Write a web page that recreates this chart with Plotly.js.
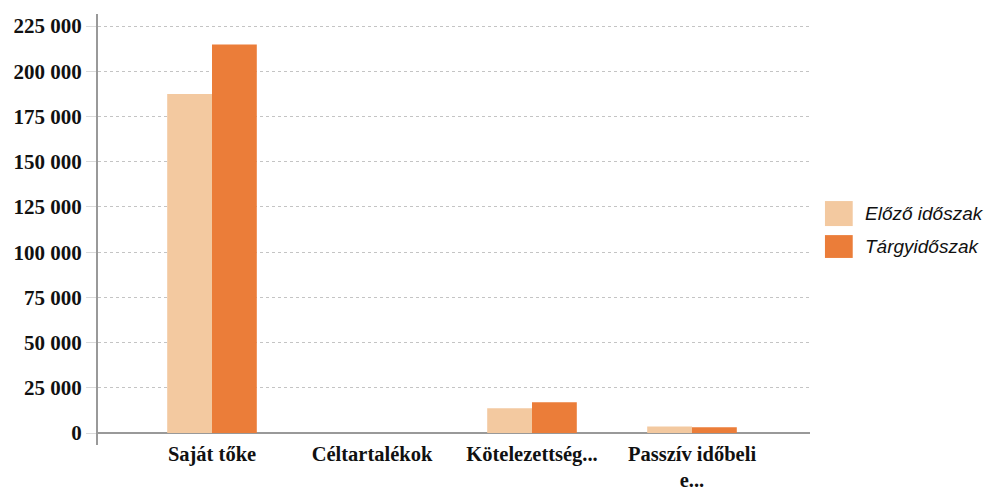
<!DOCTYPE html>
<html><head><meta charset="utf-8">
<script src="https://cdn.plot.ly/plotly-3.0.1.min.js"></script>
<style>body{margin:0;background:#fff}#c{width:986px;height:490px}</style>
</head><body><div id="c"></div>
<script>
const categories = ["Saját tőke", "Céltartalékok", "Kötelezettség...", "Passzív időbeli<br>e..."];
const seriesNames = ["Előző időszak", "Tárgyidőszak"];
const prevValues = [187500, 0, 13700, 3600];
const currValues = [214800, 0, 17000, 3200];
const yTicks = [0, 25000, 50000, 75000, 100000, 125000, 150000, 175000, 200000, 225000];
const colors = ["#F3C9A0", "#EB7D39"];

const traces = [
  {type:"bar", x:[0,1,2,3], y:prevValues, name:seriesNames[0], marker:{color:colors[0]}, showlegend:false},
  {type:"bar", x:[0,1,2,3], y:currValues, name:seriesNames[1], marker:{color:colors[1]}, showlegend:false}
];

const legendShapes = [];
const legendAnn = [];
seriesNames.forEach((n,i)=>{
  const y0 = [0.508,0.434][i], y1=[0.566,0.487][i];
  legendShapes.push({type:"rect", xref:"paper", yref:"paper", x0:1.021, x1:1.060, y0:y0, y1:y1, fillcolor:colors[i], line:{width:0}});
  legendAnn.push({xref:"paper", yref:"paper", x:1.074, y:(y0+y1)/2, xanchor:"left", yanchor:"middle", showarrow:false,
    text:n, font:{family:"Liberation Sans, Arial, sans-serif", size:19, color:"#111", style:"italic"}});
});

const layout = {
  width:986, height:490,
  margin:{l:98, r:176, t:14, b:45},
  paper_bgcolor:"#fff", plot_bgcolor:"#fff",
  separators:", ",
  barmode:"group", bargap:0.44, bargroupgap:0,
  showlegend:false,
  xaxis:{type:"linear", range:[-0.7125, 3.7375], tickmode:"array", tickvals:[0,1,2,3], ticktext:categories,
    showgrid:false, zeroline:false, showline:false, ticks:"", ticklabelstandoff:-6,
    tickfont:{family:"Liberation Serif, Times New Roman, serif", size:20.5, color:"#111", weight:"bold"}},
  yaxis:{range:[-6600, 231700], tickmode:"array", tickvals:yTicks, tickformat:",d",
    showgrid:true, gridcolor:"#c4c4c4", griddash:"dot", gridwidth:1,
    zeroline:true, zerolinecolor:"#999999", zerolinewidth:2,
    showline:true, linecolor:"#999999", linewidth:2,
    ticks:"outside", ticklen:10, tickcolor:"#dadada", tickwidth:1,
    tickfont:{family:"Liberation Serif, Times New Roman, serif", size:21, color:"#111", weight:"bold"}},
  shapes:legendShapes,
  annotations:legendAnn
};
Plotly.newPlot("c", traces, layout, {displayModeBar:false, staticPlot:true});
</script>
</body></html>
